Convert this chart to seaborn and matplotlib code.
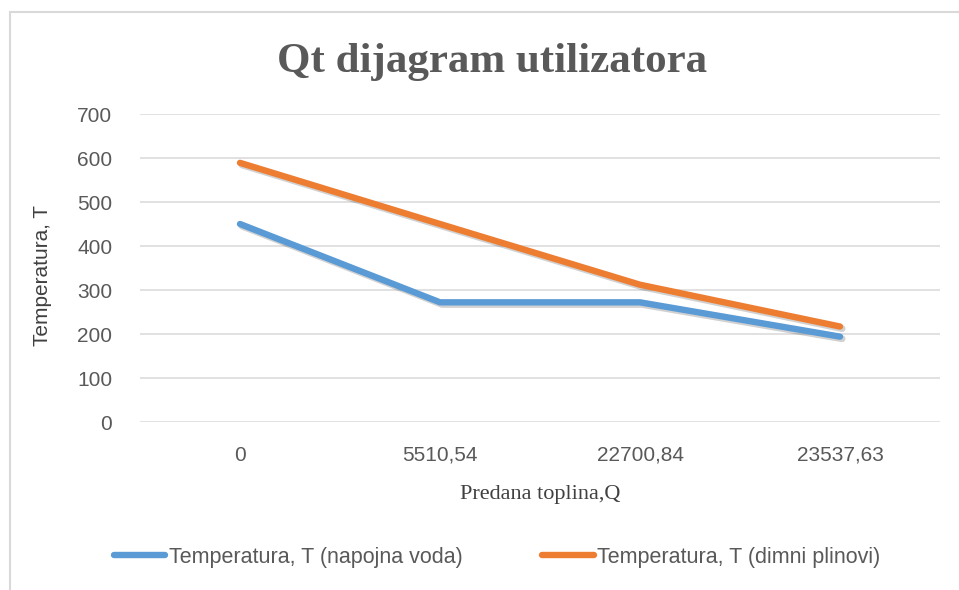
import matplotlib
matplotlib.use("Agg")
import matplotlib.pyplot as plt
import matplotlib.patheffects as pe
import seaborn as sns
import pandas as pd

# data
categories = ["0", "5510,54", "22700,84", "23537,63"]
napojna_voda = [450, 272, 272, 194]
dimni_plinovi = [589, 450, 312, 217]
series_names = ["Temperatura, T (napojna voda)", "Temperatura, T (dimni plinovi)"]
y_ticks = [0, 100, 200, 300, 400, 500, 600, 700]

df = pd.DataFrame({
    "Q": categories * 2,
    "T": napojna_voda + dimni_plinovi,
    "serija": [series_names[0]] * len(categories) + [series_names[1]] * len(categories),
})

sns.set_style("white")
plt.rcParams["font.family"] = ["Liberation Sans", "DejaVu Sans"]

fig = plt.figure(figsize=(9.59, 5.9), dpi=100)
W, H = 959, 590
ax = fig.add_axes([140 / W, 1 - 422 / H, (940 - 140) / W, (422 - 114) / H])

shadow = [pe.SimpleLineShadow(offset=(1.5, -1.5), shadow_color="black", alpha=0.18, linewidth=5),
          pe.Normal()]
sns.lineplot(data=df, x="Q", y="T", hue="serija", sort=False,
             palette=["#5B9BD5", "#ED7D31"], linewidth=4.6, ax=ax, legend=False)
for line in ax.lines:
    line.set_solid_capstyle("round")
    line.set_solid_joinstyle("round")
    line.set_path_effects(shadow)

ax.set_xlim(-0.5, 3.5)
ax.set_ylim(0, 700)
ax.set_yticks(y_ticks)
ax.grid(axis="y", color="#D9D9D9", linewidth=1.1)
ax.set_axisbelow(True)
for s in ax.spines.values():
    s.set_visible(False)
ax.tick_params(axis="both", length=0, labelsize=15, colors="#595959", pad=20)
ax.tick_params(axis="x", pad=17)
ax.set_xlabel("Predana toplina,Q", family="Liberation Serif", fontsize=16,
              color="#404040", labelpad=15)
ax.set_ylabel("Temperatura, T", fontsize=15, color="#404040")
ax.yaxis.set_label_coords(-88 / 800, 0.475)

fig.text(492 / W, 1 - 62 / H, "Qt dijagram utilizatora", ha="center", va="center",
         family="Liberation Serif", fontweight="bold", fontsize=31, color="#595959")

handles = [plt.Line2D([], [], color=c, linewidth=4.6, solid_capstyle="round")
           for c in ["#5B9BD5", "#ED7D31"]]
fig.legend(handles, series_names, loc="center", bbox_to_anchor=(497 / W, 1 - 557 / H),
           ncol=2, frameon=False, fontsize=15.5, handlelength=2.4, handletextpad=0.15,
           columnspacing=3.7, labelcolor="#595959")

# chart frame like the Excel chart area
fig.patches.append(plt.Rectangle((10 / W, -0.1), 1.2, 1 - 12 / H + 0.1,
                                 transform=fig.transFigure, fill=False,
                                 edgecolor="#D9D9D9", linewidth=1.5))

fig.savefig("out.png", dpi=100)
